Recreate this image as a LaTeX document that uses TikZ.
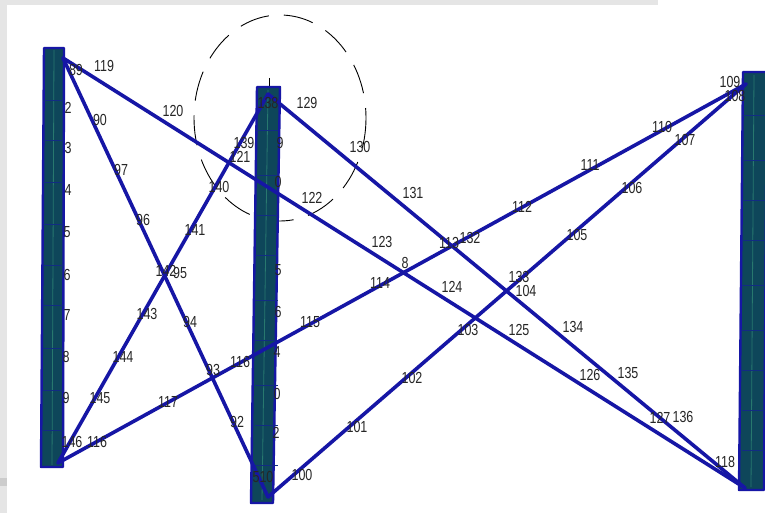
\documentclass[tikz,border=0pt]{standalone}
\usepackage{fontspec}
\setmainfont{Liberation Sans}
\definecolor{brace}{RGB}{22,22,165}
\definecolor{colfill}{RGB}{14,70,90}
\definecolor{colline}{RGB}{40,120,110}
\definecolor{framegray}{RGB}{229,229,229}
\begin{document}
\begin{tikzpicture}[x=1pt,y=-1pt,
  bracestyle/.style={draw=brace,line width=3.6pt,line cap=round},
  colstyle/.style={draw=brace,fill=colfill,line width=2.4pt,line join=round},
  colinner/.style={draw=colline,line width=0.8pt},
  colseg/.style={draw=brace!55!colfill,line width=0.7pt},
  lbl/.style={inner sep=0pt,text=black!85,font=\fontsize{16}{16}\selectfont},
  guide/.style={draw=black,line width=0.9pt,dash pattern=on 30pt off 15pt}]
\useasboundingbox (0,0) rectangle (765,513);
\fill[white] (0,0) rectangle (765,513);
\fill[framegray] (0,0) rectangle (658,5);
\fill[framegray] (0,0) rectangle (7,513);
\fill[black!20] (0,478) rectangle (7,486);

% dashed circle
\draw[guide] (280,118) ellipse [x radius=86, y radius=103];
\draw[black,line width=0.9pt] (269,78) -- (269,96);
\draw[black,line width=0.9pt] (271,214) -- (271,227);

% columns
\draw[colstyle] (44,48) -- (64,48) -- (63,467) -- (41,467) -- cycle;
\draw[colinner] (54,50) -- (52,465);
\foreach \yy in {100,140,182,224,265,305,348,390,430}{\draw[colseg] (43,\yy) -- (64,\yy);}
\draw[colstyle] (257,87) -- (280,87) -- (273,503) -- (251,503) -- cycle;
\draw[colinner] (268,90) -- (262,500);
\foreach \yy in {130,175,215,255,300,340,385,425,465}{\draw[colseg] (255,\yy) -- (278,\yy);}
\draw[colstyle] (743,72) -- (767,72) -- (764,490) -- (739,490) -- cycle;
\draw[colinner] (754,75) -- (751,487);
\foreach \yy in {115,160,200,240,285,330,370,410,450}{\draw[colseg] (742,\yy) -- (766,\yy);}

% joints
\coordinate (LT) at (63,58);
\coordinate (LB) at (58,463);
\coordinate (MT) at (268,94);
\coordinate (MB) at (268,497);
\coordinate (RT) at (746,84);
\coordinate (RB) at (745,488);

% braces
\draw[bracestyle] (LT) -- (RB);
\draw[bracestyle] (LT) -- (MB);
\draw[bracestyle] (LB) -- (MT);
\draw[bracestyle] (LB) -- (RT);
\draw[bracestyle] (MT) -- (RB);
\draw[bracestyle] (MB) -- (RT);

% labels
\foreach \t/\x/\y [count=\k] in {
 89/76/70, 119/104/66, 2/68/108, 3/68/148, 4/68/190, 5/67/232, 6/67/275, 7/67/315, 8/66/357, 9/66/398,
 90/100/120, 97/121/170, 96/143/220, 120/173/111, 140/219/187, 141/195/230, 139/244/143, 121/240/157,
 138/268/103, 129/307/103, 9/280/143, 0/278/182, 122/312/198, 130/360/147, 131/413/193, 123/382/242,
 142/166/271, 95/180/273, 145/100/398, 144/123/357, 143/147/314, 94/190/322, 117/168/402,
 146/72/442, 116/97/442, 93/213/370, 116/240/362, 92/237/422,
 5/278/270, 6/278/312, 4/277/352, 0/277/394, 2/276/433, 510/263/477,
 100/302/475, 101/357/427, 102/412/378, 115/310/322, 114/380/283, 8/405/263,
 113/449/243, 132/470/238, 112/522/207, 111/590/165, 110/662/127, 107/685/140, 106/632/188, 105/577/235,
 109/730/82, 108/735/96,
 124/452/287, 133/519/277, 104/526/291, 103/468/330, 125/519/330, 134/573/327, 126/590/375, 135/628/373,
 127/660/418, 136/683/417, 118/725/462}
 {\node[lbl] (lab\k) at (\x,\y) {\scalebox{0.78}[1]{\t}};}
\end{tikzpicture}
\end{document}
